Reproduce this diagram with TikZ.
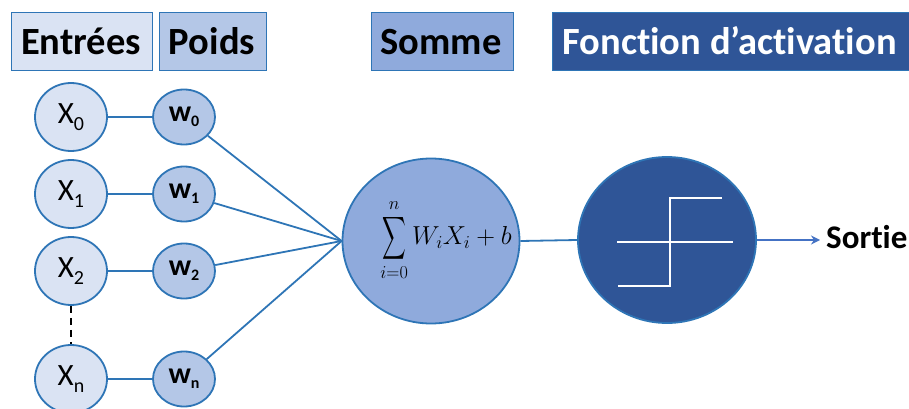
\RequirePackage{fix-cm}
\documentclass[tikz,border=0pt]{standalone}
\usepackage{amsmath}
\usepackage{fontspec}
\usepackage{graphicx}
\setmainfont{Carlito}[Ligatures=NoCommon]
\usetikzlibrary{shapes.geometric,arrows.meta}
\definecolor{cLight}{HTML}{DAE3F3}
\definecolor{cMid}{HTML}{B4C7E7}
\definecolor{cSum}{HTML}{8FAADC}
\definecolor{cDark}{HTML}{2F5597}
\definecolor{cLine}{HTML}{2E75B6}
\definecolor{cArrow}{HTML}{4472C4}
\newcommand{\xin}[1]{{\fontsize{31}{36}\selectfont X\raisebox{-7pt}{\fontsize{20}{24}\selectfont #1}}}
\newcommand{\win}[1]{{\fontsize{30}{36}\selectfont\bfseries w\raisebox{-5pt}{\fontsize{16}{20}\selectfont #1}}}
\begin{document}
\begin{tikzpicture}[x=1pt,y=-1pt,
  hdr/.style={draw=cLine, line width=1pt, inner sep=0pt, minimum height=58},
  hdrtxt/.style={font=\fontsize{38.5}{44}\selectfont\bfseries, inner sep=0pt},
  xnode/.style={ellipse, draw=cLine, line width=1.8pt, fill=cLight, minimum width=72, minimum height=68, inner sep=0pt},
  wnode/.style={ellipse, draw=cLine, line width=1.8pt, fill=cMid, minimum width=62, minimum height=55, inner sep=0pt},
  big/.style={ellipse, draw=cLine, line width=1.8pt, minimum width=177, minimum height=165, inner sep=0pt},
  link/.style={draw=cLine, line width=1.8pt}
]
\useasboundingbox (0,0) rectangle (909,409);

% headers
\node[hdr, fill=cLight, minimum width=141] (hE) at (81.5,42) {};
\node[hdrtxt, anchor=base] (tE) at (81,54.5) {Entrées};
\node[hdr, fill=cMid, minimum width=107] (hP) at (212.5,42) {};
\node[hdrtxt, anchor=base] (tP) at (212,54.5) {Poids};
\node[hdr, fill=cSum, minimum width=142] (hS) at (442,42) {};
\node[hdrtxt, anchor=base] (tS) at (441,55) {Somme};
\node[hdr, fill=cDark, minimum width=362] (hF) at (733,42) {};
\node[hdrtxt, anchor=base, text=white] (tF) at (729.5,55) {Fonction d’activation};

% inputs
\node[xnode] (x0) at (71,117) {\xin{0}};
\node[xnode] (x1) at (71,194) {\xin{1}};
\node[xnode] (x2) at (71,271) {\xin{2}};
\node[xnode] (xn) at (71,379) {\xin{n}};

% weights
\node[wnode] (w0) at (184,117) {\win{0}};
\node[wnode] (w1) at (184,194) {\win{1}};
\node[wnode] (w2) at (184,271) {\win{2}};
\node[wnode] (wn) at (184,379) {\win{n}};

% sum
\node[big, fill=cSum] (sum) at (431,241) {};
\node[inner sep=0pt] (f) at (446,240) {\fontsize{26}{30}\selectfont$\displaystyle\mathop{\vcenter{\hbox{\scalebox{0.66}[1.2]{$\displaystyle\sum$}}}}\limits_{i=0}^{n} W_iX_i+b$};

% activation
\node[big, fill=cDark, minimum width=178, minimum height=166] (act) at (667,240) {};
\begin{scope}[white, line width=2.5pt]
  \draw (617,242) -- (733,242);
  \draw (618,286) -- (670,286) -- (670,198) -- (722,198);
\end{scope}

% output
\node[font=\fontsize{33}{38}\selectfont\bfseries, inner sep=0pt, anchor=base west] (out) at (826,248) {Sortie};
\coordinate (outend) at (820,240);

% connectors
\draw[link] (x0) -- (w0);
\draw[link] (x1) -- (w1);
\draw[link] (x2) -- (w2);
\draw[link] (xn) -- (wn);
\draw[black, line width=2pt, dash pattern=on 7pt off 5pt] (x2.south) -- (xn.north);
\foreach \w in {w0,w1,w2,wn} \draw[link] (\w) -- (sum.west);
\draw[link] (sum.east) -- (act.west);
\draw[draw=cArrow, line width=1.8pt, -{Stealth[length=9pt,width=9pt]}] (act.east) -- (outend);
\end{tikzpicture}
\end{document}
